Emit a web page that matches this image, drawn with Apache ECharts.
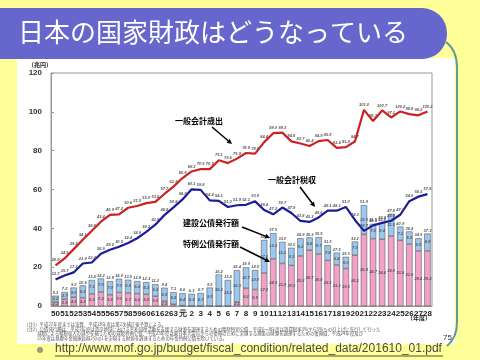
<!DOCTYPE html>
<html><head><meta charset="utf-8">
<script src="https://cdn.jsdelivr.net/npm/echarts@6/dist/echarts.min.js"></script>
<style>html,body{margin:0;padding:0;background:#FFFF99;}#c{width:480px;height:360px;}</style>
</head><body><div id="c"></div>
<script>
const categories = ['50','51','52','53','54','55','56','57','58','59','60','61','62','63','元','2','3','4','5','6','7','8','9','10','11','12','13','14','15','16','17','18','19','20','21','22','23','24','25','26','27','28'];
const expenditure = [20.9,24.5,29.3,34.1,38.8,43.4,46.9,47.2,50.6,51.5,53.0,53.6,57.7,61.5,65.9,69.3,70.5,70.5,75.1,73.6,75.9,78.8,78.5,84.4,89.0,89.3,84.8,83.7,82.4,84.9,85.5,81.4,81.8,84.7,101.0,95.3,100.7,97.1,100.2,98.8,98.2,100.2];
const taxRevenue = [13.7,15.7,17.3,21.9,22.4,26.9,29.0,30.5,32.4,34.9,38.2,41.9,46.8,50.8,54.9,60.1,59.8,54.4,54.1,51.0,51.9,52.1,53.9,49.4,47.2,50.7,47.9,43.8,43.3,45.6,49.1,49.1,51.0,44.3,38.7,41.5,42.8,43.9,47.0,54.0,56.3,57.6];
const specialBonds = [2.1,3.5,4.5,4.3,6.3,7.2,5.8,7.0,6.7,6.4,6.0,5.0,2.5,0.9,0.2,0,0,0,0,0,2.1,9.2,8.5,17.0,24.3,21.9,20.9,25.8,28.7,26.8,23.5,21.1,19.3,26.2,36.9,34.7,34.4,36.0,33.8,31.9,28.4,28.4];
const constructionBonds = [3.2,3.7,5.0,6.3,7.1,7.0,7.0,7.0,6.8,6.4,6.3,6.2,6.9,6.2,6.4,6.3,6.7,9.5,16.2,13.4,16.3,10.7,10.0,17.0,13.2,11.1,9.1,9.1,6.6,8.7,7.8,6.4,6.0,7.0,15.0,7.6,8.4,11.5,7.1,6.5,6.5,8.9];
const noteLines = [
  '（注1）平成27年度までは決算、平成28年度は第2次補正後予算による。',
  '（注2）公債発行額は、平成2年度は湾岸地域における平和回復活動を支援する財源を調達するための臨時特別公債、平成6～8年度は消費税率3%から5%への引上げに先行して行った',
  '　　　減税による租税収入の減少を補うための減税特例公債、平成23年度は東日本大震災からの復興のために実施する施策の財源を調達するための復興債、平成24年度及び',
  '　　　25年度は基礎年金国庫負担2分の1を実現する財源を調達するための年金特例公債を除いている。'
];

const JP = '"Noto Sans CJK JP", sans-serif';
const NUM = '"Liberation Sans", Arial, sans-serif';
const chart = echarts.init(document.getElementById('c'), null, {renderer:'canvas'});
const tiny = {show:true, fontSize:4, fontFamily:NUM, fontWeight:'bold', fontStyle:'italic', color:'#555'};

function arrow(x1,y1,x2,y2){
  const a = Math.atan2(y2-y1,x2-x1), L=5, W=2.5;
  const bx = x2 - L*Math.cos(a), by = y2 - L*Math.sin(a);
  return [
    {type:'line', z:100, shape:{x1:x1,y1:y1,x2:bx,y2:by}, style:{stroke:'#000', lineWidth:1.5}},
    {type:'polygon', z:100, shape:{points:[[x2,y2],[bx - W*Math.sin(a), by + W*Math.cos(a)],[bx + W*Math.sin(a), by - W*Math.cos(a)]]}, style:{fill:'#000'}}
  ];
}

const noteGraphics = noteLines.map((t,i)=>({type:'text', z:60, x:24, y:322 + i*4.8, style:{text:t, fill:'#555', font:'4.4px '+JP}}));

const option = {
  animation:false,
  graphic:[
    {type:'rect', z:-10, shape:{x:17,y:58,width:438,height:286}, style:{fill:'#fff'}},
    {type:'rect', z:50, shape:{x:-40,y:8,width:487,height:51,r:25}, style:{fill:'#6666CC'}},
    {type:'text', z:51, x:18, y:19, style:{text:'日本の国家財政はどうなっている', fill:'#fff', font:'26px '+JP, textVerticalAlign:'top'}},
    {type:'bezierCurve', z:40, shape:{x1:446,y1:42,x2:457,y2:68,cpx1:457,cpy1:50}, style:{stroke:'#5F9A9A', fill:null, lineWidth:2}},
    {type:'line', z:40, shape:{x1:457,y1:68,x2:457,y2:322}, style:{stroke:'#5F9A9A', lineWidth:2}},
    {type:'bezierCurve', z:40, shape:{x1:457,y1:322,x2:447,y2:346,cpx1:457,cpy1:338}, style:{stroke:'#5F9A9A', fill:null, lineWidth:2}},
    {type:'text', z:60, x:28, y:62, style:{text:'（兆円）', fill:'#222', font:'bold 6px '+JP}},
    {type:'text', z:60, x:407, y:315, style:{text:'（年度）', fill:'#222', font:'bold 6px '+JP}},
    {type:'circle', z:60, shape:{cx:40,cy:350,r:3}, style:{fill:'#9A9A7A'}},
    {type:'text', z:60, x:55, y:343, style:{text:'http://www.mof.go.jp/budget/fiscal_condition/related_data/201610_01.pdf', fill:'#4A4A4A', font:'12px '+NUM}},
    {type:'line', z:60, shape:{x1:55,y1:356,x2:443,y2:356}, style:{stroke:'#4A4A4A', lineWidth:1}},
    {type:'text', z:60, x:443, y:334, style:{text:'75', fill:'#333', font:'8px '+NUM}},
    {type:'text', z:100, x:175, y:117, style:{text:'一般会計歳出', fill:'#000', font:'bold 8px '+JP}},
    {type:'text', z:100, x:268, y:176, style:{text:'一般会計税収', fill:'#000', font:'bold 8px '+JP}},
    {type:'text', z:100, x:183, y:219, style:{text:'建設公債発行額', fill:'#000', font:'bold 8px '+JP}},
    {type:'text', z:100, x:183, y:240, style:{text:'特例公債発行額', fill:'#000', font:'bold 8px '+JP}}
  ].concat(noteGraphics, arrow(212,127,232,144), arrow(300,187,315,207), arrow(242,227,270,238), arrow(240,247,270,262)),
  grid:{left:51, right:48, top:73, bottom:54, show:true, borderColor:'#999', borderWidth:1, backgroundColor:'transparent'},
  xAxis:{type:'category', data:categories, axisTick:{show:false}, axisLine:{lineStyle:{color:'#999'}},
    axisLabel:{interval:0, fontSize:8, fontWeight:'bold', fontFamily:NUM, color:'#222', margin:4}},
  yAxis:{type:'value', min:0, max:120, interval:20, splitLine:{show:false},
    axisLine:{show:true, lineStyle:{color:'#999'}}, axisTick:{show:true, inside:true, length:3, lineStyle:{color:'#999'}},
    axisLabel:{fontSize:8, fontWeight:'bold', fontFamily:NUM, color:'#333', margin:9}},
  series:[
    {name:'特例公債発行額', type:'bar', stack:'b', data:specialBonds, barWidth:'70%',
      itemStyle:{color:'#F2A2C8', borderColor:'#444', borderWidth:0.5},
      label:Object.assign({}, tiny, {position:'inside', formatter:p=>p.value>=2?p.value.toFixed(1):''})},
    {name:'建設公債発行額', type:'bar', stack:'b', data:constructionBonds, barWidth:'70%',
      itemStyle:{color:'#9CC8F0', borderColor:'#444', borderWidth:0.5},
      label:Object.assign({}, tiny, {position:'inside', formatter:p=>p.value>=2?p.value.toFixed(1):''})},
    {name:'total', type:'bar', stack:'b', data:constructionBonds.map(()=>0), barWidth:'70%',
      itemStyle:{color:'transparent'},
      label:Object.assign({}, tiny, {position:'top', distance:1, formatter:p=>(specialBonds[p.dataIndex]+constructionBonds[p.dataIndex]).toFixed(1)})},
    {name:'一般会計歳出', type:'line', data:expenditure, symbol:'circle', symbolSize:0.1, showAllSymbol:true, z:5,
      lineStyle:{color:'#CC2222', width:2.2}, itemStyle:{color:'#CC2222'},
      label:Object.assign({}, tiny, {position:'top', distance:3, formatter:p=>p.value.toFixed(1)})},
    {name:'一般会計税収', type:'line', data:taxRevenue, symbol:'circle', symbolSize:0.1, showAllSymbol:true, z:5,
      lineStyle:{color:'#1C1C99', width:2.2}, itemStyle:{color:'#1C1C99'},
      label:Object.assign({}, tiny, {position:'top', distance:3, formatter:p=>p.value.toFixed(1)})}
  ]
};
chart.setOption(option);
</script></body></html>
